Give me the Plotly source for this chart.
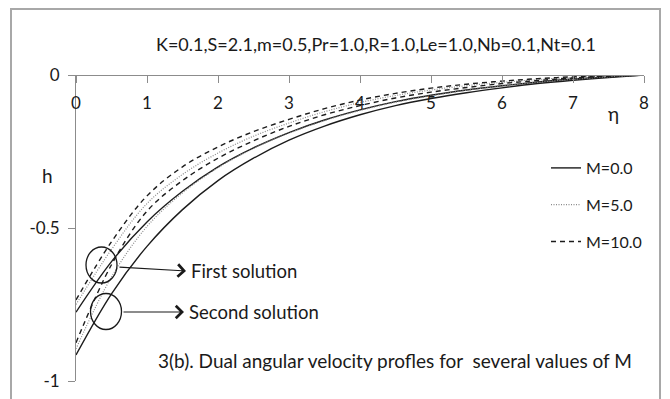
import plotly.graph_objects as go

# ---- data ----
eta = [0, 0.5, 1, 1.5, 2, 2.5, 3, 3.5, 4, 4.5, 5, 5.5, 6, 6.5, 7, 7.5, 8]

# first solution
h1_M0 = [-0.775, -0.61, -0.48, -0.38, -0.30, -0.238, -0.188, -0.147, -0.114, -0.087, -0.066, -0.049, -0.035, -0.023, -0.013, -0.006, 0.0]
h1_M5 = [-0.75, -0.57, -0.42, -0.325, -0.255, -0.20, -0.157, -0.12, -0.09, -0.067, -0.049, -0.035, -0.024, -0.015, -0.008, -0.003, 0.0]
h1_M10 = [-0.735, -0.545, -0.395, -0.30, -0.235, -0.185, -0.145, -0.11, -0.082, -0.06, -0.043, -0.03, -0.02, -0.012, -0.006, -0.002, 0.0]

# second solution
h2_M0 = [-0.915, -0.715, -0.56, -0.44, -0.345, -0.272, -0.213, -0.167, -0.13, -0.10, -0.077, -0.058, -0.042, -0.028, -0.017, -0.008, 0.0]
h2_M5 = [-0.895, -0.66, -0.495, -0.385, -0.303, -0.24, -0.19, -0.149, -0.116, -0.089, -0.068, -0.05, -0.036, -0.024, -0.014, -0.006, 0.0]
h2_M10 = [-0.875, -0.62, -0.445, -0.345, -0.272, -0.215, -0.168, -0.13, -0.10, -0.075, -0.056, -0.041, -0.028, -0.018, -0.01, -0.004, 0.0]

m_labels = ["M=0.0", "M=5.0", "M=10.0"]
x_ticks = [0, 1, 2, 3, 4, 5, 6, 7, 8]
y_ticks = [-1, -0.5, 0]
y_ticktext = ["-1", "-0.5", "0"]

title_text = "K=0.1,S=2.1,m=0.5,Pr=1.0,R=1.0,Le=1.0,Nb=0.1,Nt=0.1"
caption_text = "3(b). Dual angular velocity profles for  several values of M"

# ---- styles ----
FONT = "Lato"
styles = {
    "M=0.0": dict(color="#1c1c1c", width=1.4, dash="solid"),
    "M=5.0": dict(color="#8a8a8a", width=1.2, dash="1px,1.5px"),
    "M=10.0": dict(color="#1c1c1c", width=1.4, dash="5px,4px"),
}

fig = go.Figure()
first = [h1_M0, h1_M5, h1_M10]
second = [h2_M0, h2_M5, h2_M10]
for i, lab in enumerate(m_labels):
    for j, series in enumerate([first[i], second[i]]):
        fig.add_trace(go.Scatter(
            x=eta, y=series, mode="lines", name=lab,
            line=dict(shape="spline", smoothing=1.0, **styles[lab]),
            legendgroup=lab, showlegend=(j == 0),
        ))

# the page body adds an 8px offset; plot area sits at screen x 76..644, y 75..381
OFF = 8
fig.update_layout(
    width=670, height=399,
    margin=dict(l=76 - OFF, r=670 - (644 - OFF), t=75 - OFF, b=399 - (381 - OFF),
                autoexpand=False),
    paper_bgcolor="white", plot_bgcolor="white",
    font=dict(family=FONT, size=16, color="#1a1a1a"),
    showlegend=True,
    legend=dict(
        x=(546 - 76) / 568, y=(381 - 151) / 306, xanchor="left", yanchor="top",
        bgcolor="rgba(0,0,0,0)", borderwidth=0,
        font=dict(family=FONT, size=16, color="#1a1a1a"),
        traceorder="grouped", tracegroupgap=13,
    ),
    xaxis=dict(
        range=[0, 8], side="bottom", anchor="free", position=1,
        tickvals=x_ticks, automargin=False,
        showline=True, linecolor="#8c8c8c", linewidth=1,
        ticks="outside", ticklen=7, tickcolor="#8c8c8c",
        ticklabelstandoff=6,
        showgrid=False, zeroline=False,
        tickfont=dict(family=FONT, size=17, color="#1a1a1a"),
    ),
    yaxis=dict(
        range=[-1, 0], tickvals=y_ticks, ticktext=y_ticktext,
        automargin=False,
        showline=True, linecolor="#8c8c8c", linewidth=1,
        ticks="outside", ticklen=7, tickcolor="#8c8c8c",
        ticklabelstandoff=5,
        showgrid=False, zeroline=False,
        tickfont=dict(family=FONT, size=17, color="#1a1a1a"),
    ),
)

def px_x(p):
    return (p - 76) / 568

def px_y(p):
    return (381 - p) / 306

# outer chart border
fig.add_shape(type="rect", xref="paper", yref="paper",
              x0=px_x(11), x1=px_x(660), y0=px_y(402), y1=px_y(9),
              line=dict(color="#a8a8a8", width=2), layer="below")

def label(text, x, y, size, xanchor="center"):
    fig.add_annotation(text=text, xref="paper", yref="paper",
                       x=px_x(x), y=px_y(y), xanchor=xanchor, yanchor="middle",
                       showarrow=False,
                       font=dict(family=FONT, size=size, color="#1a1a1a"))

# title / labels
label(title_text, 376, 44, 18)
label("h", 47, 175, 19)
label("η", 613, 113, 19)
label(caption_text, 395, 360, 19)

# circles around the solution branches (data-anchored, pixel sized)
for (cx, cy) in [(101.5, 265), (106, 311.5)]:
    fig.add_shape(type="circle", xref="x", yref="y",
                  xsizemode="pixel", ysizemode="pixel",
                  xanchor=(cx - 76) / 71, yanchor=-(cy - 75) / 306,
                  x0=-15.5, x1=15.5, y0=-18, y1=18,
                  line=dict(color="#1a1a1a", width=1.3))

# arrows and their labels
arrows = [((118, 267), (186, 271), "First solution"),
          ((122, 312), (184, 312), "Second solution")]
for (tx, ty), (hx, hy), lab in arrows:
    fig.add_annotation(xref="paper", yref="paper", x=px_x(hx), y=px_y(hy),
                       ax=tx - hx, ay=ty - hy, text="", showarrow=True,
                       arrowhead=4, arrowsize=2.2, arrowwidth=1.1,
                       arrowcolor="#1a1a1a", standoff=0)
    label(lab, hx + 3, hy, 18.5, xanchor="left")

fig.write_html("out.html")
